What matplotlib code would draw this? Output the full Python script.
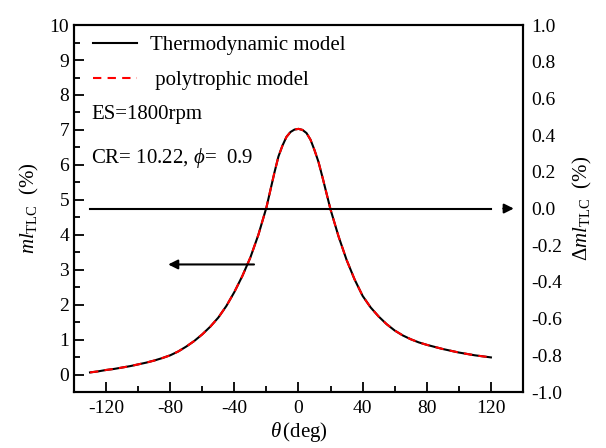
import matplotlib
import matplotlib.pyplot as plt
import numpy as np

matplotlib.use("Agg")

plt.rcParams["font.family"] = ["Liberation Serif", "DejaVu Serif"]
plt.rcParams["mathtext.fontset"] = "custom"
plt.rcParams["mathtext.rm"] = "Liberation Serif"
plt.rcParams["mathtext.it"] = "Liberation Serif:italic"
plt.rcParams["axes.unicode_minus"] = False

# crank angle (deg) and mass loss (%)
theta = [-130, -125, -120, -115, -110, -105, -100, -95, -90, -85, -80, -75, -70, -65, -60,
         -55, -50, -45, -40, -35, -30, -25, -20, -17.5, -15, -12.5, -10, -7.5, -5, -2.5,
         0, 2.5, 5, 7.5, 10, 12.5, 15, 17.5, 20, 25, 30, 35, 40, 45, 50,
         55, 60, 65, 70, 75, 80, 85, 90, 95, 100, 105, 110, 115, 120]
ml_thermo = [0.06, 0.09, 0.13, 0.16, 0.20, 0.24, 0.29, 0.34, 0.40, 0.47, 0.55, 0.66, 0.80, 0.96, 1.15,
             1.37, 1.63, 1.96, 2.36, 2.82, 3.35, 4.00, 4.78, 5.28, 5.78, 6.24, 6.55, 6.80, 6.94, 7.01,
             7.03, 7.00, 6.91, 6.72, 6.42, 6.08, 5.64, 5.18, 4.72, 3.95, 3.28, 2.72, 2.25, 1.92, 1.66,
             1.44, 1.26, 1.12, 1.01, 0.92, 0.85, 0.79, 0.73, 0.68, 0.63, 0.59, 0.55, 0.52, 0.49]
ml_poly = [0.06, 0.09, 0.13, 0.16, 0.20, 0.24, 0.29, 0.34, 0.40, 0.47, 0.55, 0.66, 0.80, 0.96, 1.15,
           1.37, 1.63, 1.96, 2.36, 2.82, 3.35, 4.00, 4.78, 5.28, 5.78, 6.24, 6.55, 6.80, 6.94, 7.01,
           7.03, 7.00, 6.91, 6.72, 6.42, 6.08, 5.64, 5.18, 4.72, 3.95, 3.28, 2.72, 2.25, 1.92, 1.66,
           1.44, 1.26, 1.12, 1.01, 0.92, 0.85, 0.79, 0.73, 0.68, 0.63, 0.59, 0.55, 0.52, 0.49]
delta = np.array(ml_thermo) - np.array(ml_poly)

x_ticks = [-120, -80, -40, 0, 40, 80, 120]
left_ticks = list(range(0, 11))
right_ticks = [-1.0, -0.8, -0.6, -0.4, -0.2, 0.0, 0.2, 0.4, 0.6, 0.8, 1.0]

fig = plt.figure(figsize=(6.06, 4.48), dpi=100)
ax = fig.add_axes([0.1221, 0.125, 0.7409, 0.819])
ax2 = ax.twinx()

ax.plot(theta, ml_thermo, color="black", lw=1.5, label="Thermodynamic model")
ax.plot(theta, ml_poly, color="red", lw=1.5, ls=(0, (4, 3)), label=" polytrophic model")
ax2.plot(theta, delta, color="black", lw=1.5)

ax.set_xlim(-140, 140)
ax.set_ylim(-0.5, 10)
ax2.set_ylim(-1.0, 1.0)

ax.set_xticks(x_ticks)
ax.set_xticks(range(-100, 140, 40), minor=True)
ax.set_yticks(left_ticks)
ax.set_yticks(np.arange(0.5, 10, 1.0), minor=True)
ax2.set_yticks(right_ticks)
ax2.set_yticklabels([f"{v:.1f}" for v in right_ticks])

for a in (ax, ax2):
    for s in a.spines.values():
        s.set_linewidth(1.5)
ax.tick_params(axis="both", which="major", direction="in", length=7, width=1.3, labelsize=14)
ax.tick_params(axis="both", which="minor", direction="in", length=4, width=1.3)
ax.tick_params(axis="x", pad=6)
ax2.tick_params(axis="y", which="both", length=0, labelsize=14, pad=6)

ax.set_xlabel(r"$\theta\,$(deg)", fontsize=15, labelpad=2)
ax.set_ylabel(r"$ml_{\mathrm{TLC}}$  (%)", fontsize=15, labelpad=6)
ax2.set_ylabel(r"$\Delta ml_{\mathrm{TLC}}$  (%)", fontsize=15, labelpad=6)

ax.legend(loc="upper left", frameon=False, fontsize=15, handlelength=2.1,
          handletextpad=0.6, labelspacing=0.75, borderaxespad=0.1,
          bbox_to_anchor=(0.02, 1.0))

ax.text(0.038, 0.755, "ES=1800rpm", transform=ax.transAxes, fontsize=15, va="center")
ax.text(0.038, 0.638, r"CR= 10.22, $\phi$=  0.9", transform=ax.transAxes, fontsize=15, va="center")

ax.annotate("", xy=(-83, 3.15), xytext=(-26, 3.15),
            arrowprops=dict(arrowstyle="-|>", color="black", lw=1.5, mutation_scale=14))
ax2.annotate("", xy=(136, 0.0), xytext=(126, 0.0),
             arrowprops=dict(arrowstyle="-|>", color="black", lw=1.5, mutation_scale=14))

fig.savefig("out.png", dpi=100)
plt.close(fig)
